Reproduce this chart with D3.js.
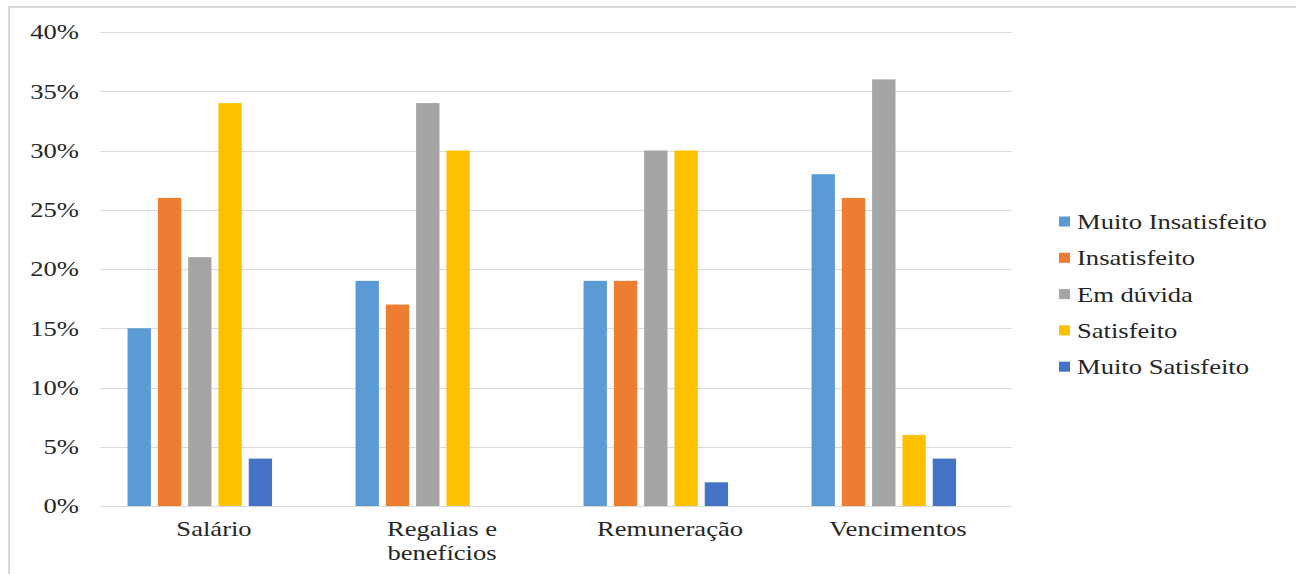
<!DOCTYPE html>
<html>
<head>
<meta charset="utf-8">
<script src="https://cdn.jsdelivr.net/npm/d3@7"></script>
<style>
  html, body { margin: 0; padding: 0; background: #fff; }
  svg { display: block; }
</style>
</head>
<body>
<svg id="chart" width="1296" height="574"></svg>
<script>
// Survey answers per remuneration term (share of respondents)
const categories = ["Salário", "Regalias e benefícios", "Remuneração", "Vencimentos"];
const categoryLines = [["Salário"], ["Regalias e", "benefícios"], ["Remuneração"], ["Vencimentos"]];
const seriesNames = ["Muito Insatisfeito", "Insatisfeito", "Em dúvida", "Satisfeito", "Muito Satisfeito"];
const seriesColors = ["#5B9BD5", "#ED7D31", "#A5A5A5", "#FFC000", "#4472C4"];
const muitoInsatisfeito = [0.15, 0.19, 0.19, 0.28];
const insatisfeito      = [0.26, 0.17, 0.19, 0.26];
const emDuvida          = [0.21, 0.34, 0.30, 0.36];
const satisfeito        = [0.34, 0.30, 0.30, 0.06];
const muitoSatisfeito   = [0.04, 0.00, 0.02, 0.04];
const yTicks = [0, 0.05, 0.10, 0.15, 0.20, 0.25, 0.30, 0.35, 0.40];

const seriesValues = [muitoInsatisfeito, insatisfeito, emDuvida, satisfeito, muitoSatisfeito];

const svg = d3.select("#chart");
const FONT = 20, SX = 1.33;   // wide serif lettering
const FAMILY = '"Liberation Serif", serif';

// outer chart frame
svg.append("rect")
  .attr("x", 9).attr("y", 7).attr("width", 1400).attr("height", 700)
  .attr("fill", "none").attr("stroke", "#d9d9d9").attr("stroke-width", 2);

const plot = { left: 100, right: 1012, top: 32, bottom: 506 };

const y = d3.scaleLinear().domain([0, 0.40]).range([plot.bottom, plot.top]);
const x0 = d3.scaleBand().domain(categories).range([plot.left, plot.right]).padding(0);
const x1 = d3.scaleBand().domain(seriesNames).range([0, x0.bandwidth()])
  .paddingInner(0.23).paddingOuter(1.378).align(0.33);

function wideText(g, x, yPos, str, anchor) {
  return g.append("text")
    .attr("transform", `translate(${x},${yPos}) scale(${SX},1)`)
    .attr("text-anchor", anchor)
    .style("font-family", FAMILY)
    .attr("font-size", FONT)
    .attr("fill", "#262626")
    .text(str);
}

// gridlines
svg.append("g").selectAll("line").data(yTicks).join("line")
  .attr("x1", plot.left).attr("x2", plot.right)
  .attr("y1", d => Math.round(y(d)) + 0.5).attr("y2", d => Math.round(y(d)) + 0.5)
  .attr("stroke", "#d9d9d9").attr("stroke-width", 1.2);

// y tick labels
const fmt = d3.format(".0%");
const yl = svg.append("g");
yTicks.forEach(t => wideText(yl, 79, y(t) + 7.3, fmt(t), "end"));

// bars
const groups = svg.append("g").selectAll("g").data(categories).join("g")
  .attr("transform", d => `translate(${x0(d)},0)`);

groups.selectAll("rect")
  .data((c, ci) => seriesNames.map((s, si) => ({ s, si, v: seriesValues[si][ci] })))
  .join("rect")
  .attr("x", d => x1(d.s))
  .attr("width", x1.bandwidth())
  .attr("y", d => y(d.v))
  .attr("height", d => y(0) - y(d.v))
  .attr("fill", d => seriesColors[d.si]);

// category labels
const xl = svg.append("g");
categories.forEach((c, i) => {
  const cx = x0(c) + x0.bandwidth() / 2;
  categoryLines[i].forEach((line, li) => wideText(xl, cx, 536 + li * 24, line, "middle"));
});

// legend
const legend = svg.append("g");
seriesNames.forEach((s, i) => {
  const cy = 221.5 + i * 36.3;
  legend.append("rect")
    .attr("x", 1059).attr("y", cy - 5).attr("width", 11).attr("height", 10)
    .attr("fill", seriesColors[i]);
  wideText(legend, 1077, cy + 7.5, s, "start");
});
</script>
</body>
</html>
